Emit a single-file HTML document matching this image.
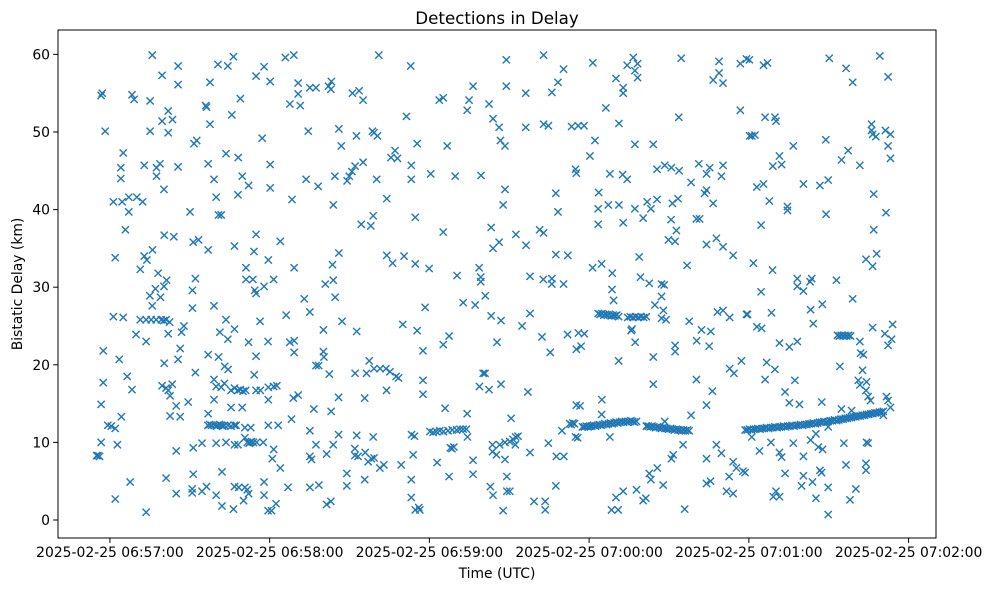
<!DOCTYPE html>
<html><head><meta charset="utf-8"><title>Detections in Delay</title>
<style>
html,body{margin:0;padding:0;background:#fff;}
svg{display:block;font-family:"DejaVu Sans","Liberation Sans",sans-serif;}
</style></head>
<body>
<svg id="chart" width="986" height="590" viewBox="0 0 986 590" xmlns="http://www.w3.org/2000/svg">
<rect width="986" height="590" fill="#fff"/>
<text x="497" y="24" text-anchor="middle" font-size="16.7" fill="#000">Detections in Delay</text>
<g id="marks"></g>
<g id="axes"></g>
<rect x="58" y="30" width="878" height="508" fill="none" stroke="#000" stroke-width="1"/>
<text x="497" y="578" text-anchor="middle" font-size="13.9" fill="#000">Time (UTC)</text>
<text transform="translate(22,284) rotate(-90)" text-anchor="middle" font-size="13.9" fill="#000">Bistatic Delay (km)</text>
</svg>
<script>
// seconds after 2025-02-25 06:57:00 UTC, delay in km
const xTickSeconds = [0, 60, 120, 180, 240, 300];
const xTickLabels = ["2025-02-25 06:57:00","2025-02-25 06:58:00","2025-02-25 06:59:00","2025-02-25 07:00:00","2025-02-25 07:01:00","2025-02-25 07:02:00"];
const yTicks = [0, 10, 20, 30, 40, 50, 60];

const strip1 = [[15.9,59.9],[19.6,57.3],[25.6,58.5],[25.6,56.1],[40.6,58.7],[44.3,58.5],[46.4,59.7],[37.6,56.4],[-3.3,54.7],[-2.9,55.0],[8.3,54.8],[9.1,54.2],[15.1,54.0],[36.0,53.4],[36.3,53.2],[45.8,52.2],[21.9,52.7],[19.6,51.4],[23.5,51.6],[37.6,51.0],[-1.8,50.1],[15.1,50.1],[21.9,49.9],[31.6,48.5],[32.6,48.9],[5.0,47.3],[43.6,47.2],[4.1,45.4],[4.1,44.0],[12.9,45.7],[17.5,45.4],[18.8,45.9],[17.5,44.3],[25.6,45.5],[36.9,45.9],[39.1,43.9],[20.3,42.6],[39.9,41.6],[1.3,41.0],[4.6,41.0],[7.1,41.6],[10.1,41.6],[12.3,41.0],[7.1,39.7],[30.1,39.7],[40.8,39.3],[41.8,39.3],[5.8,37.4],[20.4,36.7],[24.0,36.5],[31.3,35.8],[33.3,36.1],[36.9,34.8],[46.8,35.3],[2.0,33.8],[12.9,34.0],[13.9,33.5],[16.0,34.8],[11.4,32.3],[18.1,31.8],[21.3,30.9],[32.1,31.1],[17.1,29.8],[15.0,28.9],[19.0,28.7],[20.3,30.1],[31.0,29.6],[15.9,27.6],[31.0,27.3],[39.1,27.6],[1.3,26.2],[5.0,26.1],[11.4,25.8],[13.6,25.8],[15.5,25.8],[17.4,25.8],[19.3,25.8],[20.2,25.7],[21.1,25.8],[22.4,25.5],[27.8,25.0],[26.9,24.2],[21.9,24.0],[9.8,23.9],[13.6,23.0],[43.6,25.8],[41.3,24.2],[44.3,23.3],[46.8,24.6],[-2.5,21.8],[3.5,20.7],[20.4,20.2],[25.6,20.7],[26.4,22.1],[36.9,21.3],[40.8,21.0],[43.1,19.8],[44.4,19.4],[6.5,18.5],[8.3,16.8],[-2.5,17.7],[32.1,19.0],[39.1,18.1],[19.6,17.3],[21.1,17.0],[23.4,17.5],[21.9,16.7],[22.6,16.0],[39.9,17.2],[41.8,17.1],[43.0,17.6],[45.5,16.7],[46.8,17.0],[39.1,15.5],[29.4,15.2],[24.9,14.7],[-3.3,14.9],[45.5,14.5],[22.6,13.4],[26.4,13.3],[4.3,13.3],[-0.8,12.2],[0.5,12.1],[2.0,11.8],[36.9,13.7],[36.8,12.2],[37.5,12.3],[38.2,12.2],[39.3,12.2],[40.0,12.1],[40.5,12.2],[41.2,12.3],[41.8,12.2],[42.4,12.1],[43.0,12.2],[44.3,12.2],[45.5,12.1],[46.8,12.2],[47.4,12.2],[-3.3,10.0],[2.8,9.7],[24.9,8.9],[31.3,9.3],[34.6,9.9],[39.9,9.9],[43.6,10.0],[46.8,9.7],[-4.5,8.3],[-3.9,8.2],[-5.0,8.3],[7.6,4.9],[21.1,5.4],[31.3,5.9],[42.1,6.2],[24.9,3.4],[30.9,4.0],[30.9,3.5],[34.6,3.7],[36.3,4.3],[39.9,3.2],[46.8,4.3],[2.0,2.7],[13.6,1.0],[42.1,1.8],[46.4,1.4]];

const strip2 = [[54.9,57.2],[57.9,58.4],[60.2,56.5],[65.9,59.6],[69.1,59.9],[101.0,59.9],[49.0,54.3],[67.6,53.6],[70.7,56.3],[70.7,54.9],[71.5,53.4],[75.1,55.7],[77.4,55.7],[82.1,55.9],[83.2,56.5],[83.0,55.5],[91.1,55.0],[93.6,55.3],[95.1,54.1],[111.4,52.0],[57.2,49.2],[74.5,50.1],[86.0,50.4],[86.9,48.2],[92.6,49.5],[98.6,50.1],[99.2,49.9],[100.5,49.5],[105.6,46.7],[107.1,47.6],[108.0,46.6],[48.2,46.7],[60.2,45.8],[49.7,44.3],[52.1,43.1],[60.2,42.8],[48.1,41.9],[68.4,41.3],[73.7,43.9],[78.2,43.0],[83.9,40.6],[84.5,44.3],[89.1,43.7],[89.9,44.3],[90.9,44.9],[92.1,45.6],[95.1,46.1],[100.2,43.9],[104.0,41.4],[94.4,38.1],[98.0,37.9],[98.9,39.2],[54.9,36.8],[64.0,35.9],[54.1,34.6],[59.5,33.5],[51.1,32.5],[69.2,32.5],[83.6,32.9],[86.0,34.4],[104.0,34.1],[106.2,33.1],[110.5,34.0],[51.1,31.0],[53.7,31.0],[54.4,29.6],[54.9,29.2],[57.9,30.1],[61.5,31.0],[80.9,30.4],[83.9,30.9],[84.6,28.7],[73.0,28.5],[75.1,26.8],[66.2,26.4],[56.4,25.6],[87.2,25.6],[92.7,24.3],[80.2,24.5],[110.0,25.2],[52.1,22.9],[59.4,23.0],[67.6,22.9],[69.2,23.1],[69.2,21.6],[54.9,21.1],[80.2,21.7],[80.4,21.0],[77.4,19.9],[78.4,19.9],[82.4,18.8],[92.1,18.9],[96.4,18.9],[97.4,20.5],[99.2,19.5],[101.5,19.5],[103.7,19.5],[105.2,19.1],[107.5,18.5],[108.4,18.3],[54.2,18.7],[48.1,16.7],[49.0,16.8],[50.0,16.6],[51.0,16.7],[54.9,16.7],[56.5,16.7],[59.5,17.1],[61.5,17.2],[62.7,17.3],[59.5,15.5],[68.9,15.7],[70.7,16.1],[85.9,15.8],[95.7,15.7],[103.9,16.7],[49.7,14.5],[76.6,14.3],[83.1,14.0],[68.2,13.0],[59.5,12.2],[63.2,12.2],[52.9,11.9],[50.7,11.9],[75.1,11.5],[85.9,11.0],[92.7,10.9],[98.9,10.7],[48.1,9.7],[50.7,10.6],[51.6,10.0],[52.3,9.9],[52.6,10.0],[53.2,10.1],[53.9,10.0],[55.1,10.0],[57.6,10.0],[61.5,9.1],[61.0,7.9],[64.0,6.7],[77.4,9.7],[75.1,8.2],[75.7,7.8],[81.4,8.5],[83.9,9.7],[92.0,9.2],[92.0,8.3],[93.2,8.2],[95.9,8.7],[97.0,7.5],[98.2,7.9],[99.2,8.0],[101.4,6.7],[102.9,7.1],[109.4,7.1],[48.4,4.2],[50.7,4.2],[51.6,3.9],[52.1,3.4],[50.2,2.5],[57.9,4.9],[57.9,3.2],[66.9,4.2],[75.1,4.2],[78.5,4.5],[89.0,6.0],[89.0,4.4],[95.7,5.2],[59.4,1.2],[60.7,1.2],[62.4,2.1],[81.4,2.0],[83.0,2.4]];

const strip3 = [[113.0,58.5],[148.9,59.3],[162.9,59.9],[170.4,58.1],[168.3,56.4],[166.0,55.1],[156.2,55.0],[148.9,55.9],[136.4,55.9],[134.9,54.1],[134.2,52.8],[142.4,53.6],[143.9,51.7],[146.2,50.6],[156.2,50.6],[162.9,51.0],[164.7,50.8],[173.4,50.7],[123.7,54.1],[125.2,54.4],[115.4,48.5],[126.7,48.2],[146.7,48.9],[148.4,48.2],[113.2,45.7],[113.2,43.9],[120.5,44.6],[129.7,44.3],[139.4,44.4],[174.9,45.2],[148.4,42.6],[147.7,40.6],[167.5,42.1],[168.3,39.7],[114.7,39.0],[125.2,37.1],[143.2,37.7],[146.2,35.8],[143.9,35.0],[152.5,36.8],[156.3,35.4],[161.4,37.4],[162.9,37.0],[114.7,33.0],[119.9,32.4],[130.4,31.5],[138.7,32.5],[139.3,31.3],[139.3,30.7],[141.0,28.9],[137.2,27.7],[132.7,28.0],[118.4,27.4],[143.2,26.3],[146.9,25.7],[157.8,31.4],[162.8,31.0],[166.0,31.1],[166.0,30.4],[170.4,30.4],[167.5,34.2],[172.0,34.1],[157.8,26.6],[154.8,25.0],[162.3,23.6],[165.4,21.6],[171.9,23.9],[175.2,22.0],[115.4,24.4],[125.2,22.6],[127.4,23.7],[145.4,22.9],[117.6,21.8],[117.6,18.0],[117.6,16.2],[138.8,17.2],[140.2,18.9],[140.9,18.9],[142.4,16.8],[146.9,17.5],[157.0,16.5],[125.9,14.4],[134.2,13.7],[150.7,13.1],[113.3,11.0],[114.4,10.8],[120.2,11.4],[121.4,11.3],[122.6,11.4],[123.9,11.5],[125.3,11.4],[127.0,11.5],[128.6,11.6],[130.2,11.6],[131.5,11.7],[132.7,11.7],[133.9,11.7],[134.3,10.7],[127.9,9.3],[129.2,9.4],[128.5,9.2],[113.9,8.4],[122.9,7.4],[127.4,5.6],[136.4,7.7],[136.4,5.9],[143.7,9.7],[143.7,8.8],[145.2,8.4],[146.4,9.7],[148.4,10.0],[148.4,7.8],[150.2,10.1],[151.4,10.4],[152.4,10.7],[153.3,10.8],[152.3,9.7],[157.8,8.7],[164.7,9.9],[167.7,8.2],[170.5,8.2],[169.8,11.5],[172.7,12.4],[173.3,12.3],[173.9,12.5],[174.5,12.4],[175.2,14.8],[174.9,10.7],[113.2,5.2],[113.2,2.9],[114.7,1.3],[116.4,1.3],[116.0,1.6],[142.9,4.3],[143.9,3.2],[149.1,5.6],[149.1,3.7],[150.2,3.7],[147.7,1.2],[159.3,2.4],[163.5,2.4],[163.5,1.3],[167.5,4.4]];

const strip4 = [[181.4,58.9],[194.3,58.6],[196.6,59.6],[198.2,58.8],[197.2,57.9],[198.2,57.0],[190.1,56.9],[192.8,55.7],[192.8,55.0],[214.6,59.5],[228.8,59.1],[228.8,57.6],[226.6,56.7],[230.3,56.3],[236.8,58.8],[239.1,59.4],[236.8,52.8],[186.3,53.1],[213.7,51.9],[178.1,50.8],[175.9,50.8],[191.2,51.1],[182.2,48.9],[197.2,48.4],[204.1,48.4],[240.3,49.5],[180.3,46.9],[175.2,44.7],[187.8,44.6],[192.6,44.5],[194.3,43.9],[205.5,45.2],[208.4,45.7],[210.9,45.4],[213.8,45.0],[221.2,45.9],[225.3,45.4],[224.1,44.6],[230.3,45.7],[229.7,44.3],[218.3,43.5],[183.6,42.2],[183.4,40.1],[187.2,40.6],[191.2,40.6],[197.2,40.1],[201.8,41.0],[203.2,40.1],[205.5,41.3],[200.3,38.9],[192.8,38.3],[183.4,38.1],[211.3,40.8],[213.4,41.4],[210.8,38.7],[223.4,42.1],[224.1,42.5],[226.6,40.8],[220.3,38.8],[221.5,38.8],[212.8,37.3],[209.8,36.1],[212.3,35.9],[224.1,35.5],[227.8,36.3],[230.3,35.2],[234.1,34.1],[198.8,33.9],[181.3,32.5],[184.7,33.0],[188.7,31.8],[216.8,32.8],[199.3,31.3],[202.6,30.5],[207.2,30.4],[208.2,30.3],[188.6,29.7],[189.2,28.3],[207.2,28.8],[204.7,27.7],[207.9,27.0],[207.2,26.0],[208.9,25.8],[196.1,24.6],[195.8,24.4],[197.3,22.9],[191.1,20.5],[204.1,21.0],[204.1,17.5],[217.6,25.6],[222.2,24.5],[225.7,24.3],[220.4,23.1],[225.1,22.4],[228.2,26.8],[230.3,27.0],[232.8,26.1],[239.1,26.5],[212.3,22.5],[212.3,21.7],[232.8,19.5],[234.4,18.9],[237.2,20.5],[178.2,24.0],[176.0,24.1],[177.0,22.4],[220.3,18.1],[226.3,16.6],[224.1,14.8],[184.8,15.5],[184.7,13.6],[176.6,14.7],[187.8,10.7],[175.7,10.6],[218.3,13.5],[208.4,12.7],[215.3,9.7],[210.9,7.9],[211.6,8.4],[205.6,6.7],[202.6,6.0],[203.2,5.2],[207.8,4.5],[190.1,2.9],[192.8,3.7],[188.4,1.3],[190.9,1.3],[197.8,3.9],[200.3,2.5],[201.3,2.8],[215.9,1.4],[224.1,7.9],[227.8,9.7],[229.7,8.6],[224.1,4.7],[225.6,5.0],[232.6,5.6],[234.1,7.5],[235.3,6.7],[237.8,6.3],[231.6,3.7],[234.1,3.4]];

const strip5 = [[240.2,59.3],[245.5,58.6],[247.0,58.9],[270.2,59.5],[276.5,58.2],[279.0,56.4],[289.2,59.8],[292.3,57.1],[246.1,51.9],[249.8,51.9],[250.2,51.4],[241.1,49.5],[242.3,49.6],[256.7,48.2],[268.9,49.0],[251.5,46.9],[249.0,45.6],[252.3,45.8],[274.8,46.4],[277.3,47.6],[281.7,45.7],[286.1,51.0],[286.1,50.2],[286.5,49.7],[287.7,49.4],[291.3,50.2],[293.2,49.7],[292.3,48.2],[293.2,46.6],[243.0,42.9],[245.5,43.3],[247.7,41.1],[254.5,40.4],[254.5,39.9],[260.5,43.3],[266.7,43.1],[269.8,43.8],[269.0,39.4],[244.6,38.0],[286.9,42.0],[286.9,37.4],[291.5,39.6],[241.7,33.1],[248.9,32.2],[284.0,33.6],[288.0,34.3],[286.5,32.7],[244.6,29.4],[258.2,31.1],[258.2,30.1],[260.5,29.5],[263.0,30.7],[263.6,31.1],[272.9,30.9],[279.0,28.5],[239.5,26.5],[248.5,26.7],[243.0,24.9],[244.8,24.7],[263.2,27.1],[264.2,25.3],[267.6,27.8],[251.5,22.8],[255.2,22.3],[258.2,23.0],[281.7,23.0],[286.5,24.8],[291.1,24.0],[292.3,22.5],[293.6,23.3],[294.0,25.2],[282.0,21.5],[283.0,21.3],[274.2,19.8],[282.7,19.3],[246.7,20.3],[249.8,19.4],[246.1,18.1],[257.3,18.0],[281.1,18.0],[284.2,17.8],[281.7,17.4],[284.0,16.7],[284.8,15.9],[285.7,15.4],[291.7,15.9],[292.3,15.4],[293.2,14.5],[290.5,13.5],[253.6,16.5],[255.2,15.1],[259.0,14.9],[267.4,15.2],[274.8,14.3],[278.6,14.1],[241.1,10.7],[244.0,8.9],[248.3,10.0],[251.5,8.7],[252.3,8.1],[256.7,9.9],[263.2,10.3],[265.2,11.1],[266.1,9.4],[267.7,9.1],[260.5,8.2],[269.8,12.0],[275.7,9.9],[284.2,10.0],[284.8,9.9],[276.5,7.1],[284.0,7.3],[284.0,6.4],[238.6,6.1],[253.6,6.0],[260.5,5.7],[266.7,6.4],[267.3,6.1],[259.8,4.4],[263.9,4.9],[269.8,4.2],[280.2,4.0],[249.2,3.0],[250.2,3.7],[251.5,3.0],[265.2,2.8],[278.0,2.6],[269.8,0.7]];

const trackATimes = [183.4,184.1,184.8,185.5,186.2,186.9,187.6,188.3,189.0,189.7,190.4,191.1,194.5,195.5,196.5,197.5,198.5,199.5,200.5,201.5];
const trackADelays = [26.6,26.5,26.6,26.4,26.5,26.4,26.5,26.3,26.4,26.3,26.4,26.2,26.1,26.2,26.1,26.2,26.1,26.2,26.1,26.2];

const trackBTimes = [177.5,178.2,178.9,179.6,180.3,181.0,181.7,182.4,183.1,183.8,184.5,185.2,185.9,186.6,187.3,188.0,188.7,189.4,190.1,190.8,191.5,192.2,192.9,193.6,194.3,195.0,195.7,196.4,197.1,197.8,201.5,202.2,202.9,203.6,204.3,205.0,205.7,206.4,207.1,207.8,208.5,209.2,209.9,210.6,211.3,212.0,212.7,213.4,214.1,214.8,215.5,216.2,216.9,217.6];
const trackBDelays = [12.0,12.0,12.1,12.0,12.1,12.1,12.2,12.1,12.2,12.3,12.2,12.3,12.4,12.3,12.4,12.5,12.4,12.5,12.6,12.5,12.6,12.7,12.6,12.7,12.6,12.7,12.8,12.7,12.6,12.7,12.1,12.1,12.0,12.1,12.0,11.9,12.0,11.9,11.8,11.9,11.8,11.8,11.7,11.8,11.7,11.6,11.7,11.6,11.6,11.5,11.6,11.5,11.6,11.5];

const trackCTimes = [238.6,239.4,240.2,241.0,241.8,242.6,243.4,244.2,245.0,245.8,246.6,247.4,248.2,249.0,249.8,250.6,251.4,252.2,253.0,253.8,254.6,255.4,256.2,257.0,257.8,258.6,259.4,260.2,261.0,261.8,262.6,263.4,264.2,265.0,265.8,266.6,267.4,268.2,269.0,269.8,270.6,271.4,272.2,273.0,273.8,274.6,275.4,276.2,277.0,277.8,278.6,279.4,280.2,281.0,281.8,282.6,283.4,284.2,285.0,285.8,286.6,287.4,288.2,289.0,289.8,290.5];
const trackCDelays = [11.6,11.6,11.7,11.6,11.7,11.7,11.8,11.7,11.8,11.8,11.9,11.8,11.9,11.9,12.0,11.9,12.0,12.0,12.1,12.0,12.1,12.1,12.2,12.1,12.2,12.2,12.3,12.2,12.3,12.3,12.4,12.4,12.5,12.4,12.5,12.6,12.6,12.7,12.6,12.7,12.8,12.8,12.9,12.8,12.9,13.0,13.0,13.1,13.1,13.2,13.2,13.3,13.3,13.4,13.4,13.5,13.5,13.6,13.6,13.7,13.7,13.8,13.8,13.9,13.9,14.0];

const trackDTimes = [273.3,274.0,274.7,275.4,276.1,276.8,277.5,278.2];
const trackDDelays = [23.8,23.7,23.8,23.7,23.8,23.7,23.8,23.7];

const NS = "http://www.w3.org/2000/svg";
const X0 = 58, X1 = 936, Y0 = 30, Y1 = 538;
const T_MIN = -19.5, T_MAX = 310.3, D_MIN = -2.32, D_MAX = 63.14;
function xScale(t){ return X0 + (t - T_MIN) / (T_MAX - T_MIN) * (X1 - X0); }
function yScale(d){ return Y1 - (d - D_MIN) / (D_MAX - D_MIN) * (Y1 - Y0); }

const marks = document.getElementById('marks');
const axes = document.getElementById('axes');
const COLOR = "#1f77b4", R = 3.6;

function addMarker(t, d){
  const x = xScale(t), y = yScale(d);
  const p = document.createElementNS(NS, 'path');
  p.setAttribute('d', `M${x-R},${y-R}L${x+R},${y+R}M${x-R},${y+R}L${x+R},${y-R}`);
  p.setAttribute('stroke', COLOR);
  p.setAttribute('stroke-width', '1.4');
  p.setAttribute('fill', 'none');
  
  
  marks.appendChild(p);
}
[strip1, strip2, strip3, strip4, strip5].forEach(arr => arr.forEach(pt => addMarker(pt[0], pt[1])));
[[trackATimes,trackADelays],[trackBTimes,trackBDelays],[trackCTimes,trackCDelays],[trackDTimes,trackDDelays]].forEach(pair => {
  pair[0].forEach((t, i) => addMarker(t, pair[1][i]));
});

xTickSeconds.forEach((s, i) => {
  const x = xScale(s);
  const l = document.createElementNS(NS, 'line');
  l.setAttribute('x1', x); l.setAttribute('x2', x);
  l.setAttribute('y1', Y1); l.setAttribute('y2', Y1 + 4.9);
  l.setAttribute('stroke', '#000'); l.setAttribute('stroke-width', '1');
  
  
  axes.appendChild(l);
  const tx = document.createElementNS(NS, 'text');
  tx.setAttribute('x', x); tx.setAttribute('y', Y1 + 19);
  tx.setAttribute('text-anchor', 'middle'); tx.setAttribute('font-size', '13.9');
  tx.textContent = xTickLabels[i];
  
  
  axes.appendChild(tx);
});
yTicks.forEach(v => {
  const y = yScale(v);
  const l = document.createElementNS(NS, 'line');
  l.setAttribute('x1', X0 - 4.9); l.setAttribute('x2', X0);
  l.setAttribute('y1', y); l.setAttribute('y2', y);
  l.setAttribute('stroke', '#000'); l.setAttribute('stroke-width', '1');
  
  
  axes.appendChild(l);
  const tx = document.createElementNS(NS, 'text');
  tx.setAttribute('x', X0 - 8); tx.setAttribute('y', y + 5);
  tx.setAttribute('text-anchor', 'end'); tx.setAttribute('font-size', '13.9');
  tx.textContent = String(v);
  
  
  axes.appendChild(tx);
});
</script>
</body></html>
